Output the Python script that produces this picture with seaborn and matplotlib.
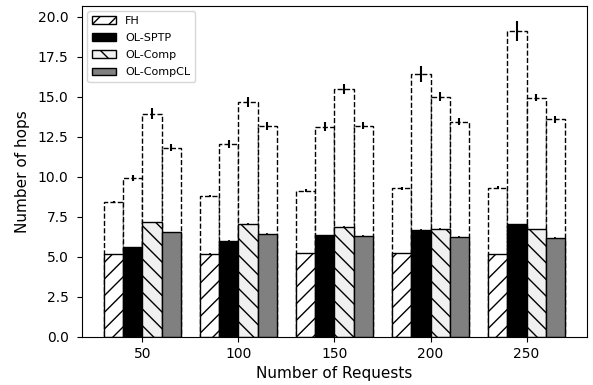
import matplotlib
matplotlib.use("Agg")
import matplotlib.pyplot as plt
from matplotlib.patches import Patch
import numpy as np
import pandas as pd
import seaborn as sns

requests = [50, 100, 150, 200, 250]
methods = ["FH", "OL-SPTP", "OL-Comp", "OL-CompCL"]

# lower (solid) part of each bar
base_fh = [5.17, 5.19, 5.23, 5.23, 5.17]
base_sptp = [5.62, 6.02, 6.37, 6.69, 7.04]
base_comp = [7.17, 7.06, 6.90, 6.75, 6.73]
base_compcl = [6.54, 6.44, 6.31, 6.25, 6.21]

# full height (dashed outline) of each bar
total_fh = [8.42, 8.81, 9.15, 9.29, 9.33]
total_sptp = [9.94, 12.04, 13.15, 16.44, 19.12]
total_comp = [13.96, 14.67, 15.50, 15.02, 14.96]
total_compcl = [11.83, 13.19, 13.21, 13.46, 13.60]

# spread of the full height
err_fh = [0.08, 0.08, 0.08, 0.08, 0.08]
err_sptp = [0.20, 0.25, 0.28, 0.50, 0.60]
err_comp = [0.35, 0.30, 0.30, 0.28, 0.22]
err_compcl = [0.20, 0.25, 0.20, 0.22, 0.20]

# spread of the lower part
err_base = [0.03, 0.03, 0.03, 0.03, 0.03]

bases = [base_fh, base_sptp, base_comp, base_compcl]
totals = [total_fh, total_sptp, total_comp, total_compcl]
errs = [err_fh, err_sptp, err_comp, err_compcl]

rows = []
for m, b, t, e in zip(methods, bases, totals, errs):
    for r, bv, tv, ev in zip(requests, b, t, e):
        rows.append({"requests": str(r), "method": m, "base": bv,
                     "total": tv, "err": ev})
df = pd.DataFrame(rows)

fills = {"FH": "white", "OL-SPTP": "black", "OL-Comp": "#f0f0f0",
         "OL-CompCL": "#808080"}
hatches = {"FH": "//", "OL-SPTP": "", "OL-Comp": "\\\\", "OL-CompCL": ""}

fig = plt.figure(figsize=(5.93, 3.85), dpi=100)
ax = fig.add_axes([0.138, 0.125, 0.852, 0.86])

order = [str(r) for r in requests]

# dashed outlines for the full height
sns.barplot(data=df, x="requests", y="total", hue="method", order=order,
            hue_order=methods, palette={m: "white" for m in methods},
            saturation=1, errorbar=None, legend=False, ax=ax,
            edgecolor="black", linewidth=1.0, linestyle="--")
n_dashed = len(ax.containers)

# solid lower parts
sns.barplot(data=df, x="requests", y="base", hue="method", order=order,
            hue_order=methods, palette=fills, saturation=1, errorbar=None,
            legend=False, ax=ax, edgecolor="black", linewidth=1.0)

for ci, cont in enumerate(ax.containers[n_dashed:]):
    m = methods[ci]
    for p in cont.patches:
        p.set_hatch(hatches[m])
        p.set_linestyle("-")

# error bars at the top of each part
for ci, m in enumerate(methods):
    sub = df[df["method"] == m]
    dashed = ax.containers[ci].patches
    solid = ax.containers[n_dashed + ci].patches
    xs = [p.get_x() + p.get_width() / 2 for p in dashed]
    ax.errorbar(xs, sub["total"], yerr=sub["err"], fmt="none",
                ecolor="black", elinewidth=1.5, capsize=0, zorder=5)
    xs2 = [p.get_x() + p.get_width() / 2 for p in solid]
    ax.errorbar(xs2, sub["base"], yerr=err_base, fmt="none",
                ecolor="black", elinewidth=1.2, capsize=0, zorder=5)

ax.set_xlim(-0.63, 4.63)
ax.set_ylim(0, 20.7)
ax.set_yticks(np.arange(0, 20.1, 2.5))
ax.set_yticklabels([f"{v:.1f}" for v in np.arange(0, 20.1, 2.5)])
ax.tick_params(axis="both", labelsize=10)
ax.tick_params(axis="y", pad=6)
ax.set_xlabel("Number of Requests", fontsize=11)
ax.set_ylabel("Number of hops", fontsize=11, labelpad=6)

handles = [Patch(facecolor=fills[m], edgecolor="black", hatch=hatches[m],
                 label=m) for m in methods]
ax.legend(handles=handles, loc="upper left", fontsize=8, handlelength=2.2,
          labelspacing=0.65)

fig.savefig("out.png", dpi=100)
